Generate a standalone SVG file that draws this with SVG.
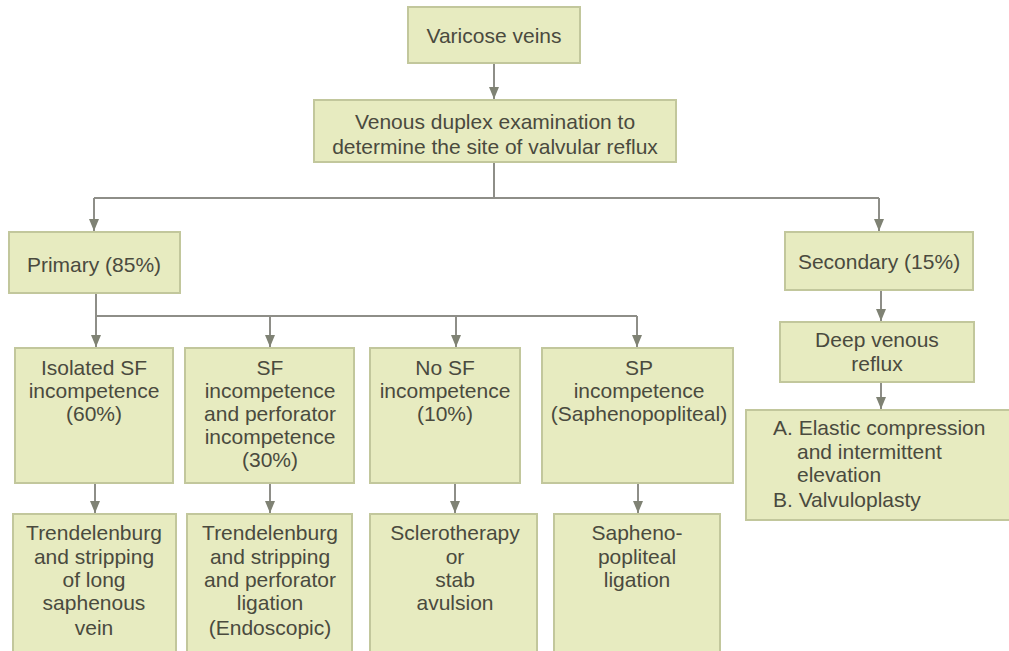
<svg xmlns="http://www.w3.org/2000/svg" width="1009" height="651" viewBox="0 0 1009 651">
<style>
.box{fill:#e7ebc0;stroke:#c2c79c;stroke-width:2}
.t{font-family:"Liberation Sans",Arial,sans-serif;font-size:21px;fill:#4a4a3e;text-anchor:middle}
.l{text-anchor:start}
.c{fill:none;stroke:#8e8e88;stroke-width:2}
</style>
<defs>
<marker id="ah" viewBox="0 0 12 10" refX="12" refY="5" markerWidth="12" markerHeight="10" markerUnits="userSpaceOnUse" orient="auto">
<path d="M0,0 L12,5 L0,10 Z" fill="#7f8274"/>
</marker>
</defs>
<rect width="1009" height="651" fill="#ffffff"/>
<g id="connectors">
<path class="c" d="M494,63 V99" marker-end="url(#ah)"/>
<path class="c" d="M494,162 V198 M94,198 H879"/>
<path class="c" d="M94,198 V231" marker-end="url(#ah)"/>
<path class="c" d="M879,198 V231" marker-end="url(#ah)"/>
<path class="c" d="M96,293 V316 M96,316 H637"/>
<path class="c" d="M96,316 V347" marker-end="url(#ah)"/>
<path class="c" d="M270,316 V347" marker-end="url(#ah)"/>
<path class="c" d="M456,316 V347" marker-end="url(#ah)"/>
<path class="c" d="M637,316 V347" marker-end="url(#ah)"/>
<path class="c" d="M95,484 V513" marker-end="url(#ah)"/>
<path class="c" d="M270,484 V513" marker-end="url(#ah)"/>
<path class="c" d="M455,484 V513" marker-end="url(#ah)"/>
<path class="c" d="M638,484 V513" marker-end="url(#ah)"/>
<path class="c" d="M881,290 V321" marker-end="url(#ah)"/>
<path class="c" d="M881,382 V409" marker-end="url(#ah)"/>
</g>
<g id="varicose">
<rect class="box" x="408" y="7" width="172" height="56"/>
<text class="t" x="494" y="43">Varicose veins</text>
</g>
<g id="duplex">
<rect class="box" x="314" y="100" width="362" height="62"/>
<text class="t" x="495" y="129">Venous duplex examination to</text>
<text class="t" x="495" y="154">determine the site of valvular reflux</text>
</g>
<g id="primary">
<rect class="box" x="9" y="232" width="171" height="61"/>
<text class="t" x="94" y="272">Primary (85%)</text>
</g>
<g id="secondary">
<rect class="box" x="785" y="232" width="188" height="58"/>
<text class="t" x="879" y="269">Secondary (15%)</text>
</g>
<g id="deep">
<rect class="box" x="780" y="322" width="194" height="60"/>
<text class="t" x="877" y="347">Deep venous</text>
<text class="t" x="877" y="371">reflux</text>
</g>
<g id="treatment-deep">
<rect class="box" x="746" y="410" width="270" height="110"/>
<text class="t l" x="773" y="435">A. Elastic compression</text>
<text class="t l" x="797" y="459">and intermittent</text>
<text class="t l" x="797" y="482">elevation</text>
<text class="t l" x="773" y="507">B. Valvuloplasty</text>
</g>
<g id="isolated-sf">
<rect class="box" x="15" y="348" width="158" height="135"/>
<text class="t" x="94" y="375">Isolated SF</text>
<text class="t" x="94" y="398">incompetence</text>
<text class="t" x="94" y="421">(60%)</text>
</g>
<g id="sf-perforator">
<rect class="box" x="185" y="348" width="169" height="135"/>
<text class="t" x="270" y="375">SF</text>
<text class="t" x="270" y="398">incompetence</text>
<text class="t" x="270" y="421">and perforator</text>
<text class="t" x="270" y="444">incompetence</text>
<text class="t" x="270" y="467">(30%)</text>
</g>
<g id="no-sf">
<rect class="box" x="370" y="348" width="150" height="135"/>
<text class="t" x="445" y="375">No SF</text>
<text class="t" x="445" y="398">incompetence</text>
<text class="t" x="445" y="421">(10%)</text>
</g>
<g id="sp">
<rect class="box" x="542" y="348" width="191" height="135"/>
<text class="t" x="639" y="375">SP</text>
<text class="t" x="639" y="398">incompetence</text>
<text class="t" x="639" y="421">(Saphenopopliteal)</text>
</g>
<g id="trend-long">
<rect class="box" x="13" y="514" width="163" height="145"/>
<text class="t" x="94" y="540">Trendelenburg</text>
<text class="t" x="94" y="564">and stripping</text>
<text class="t" x="94" y="587">of long</text>
<text class="t" x="94" y="610">saphenous</text>
<text class="t" x="94" y="635">vein</text>
</g>
<g id="trend-perf">
<rect class="box" x="187" y="514" width="165" height="145"/>
<text class="t" x="270" y="540">Trendelenburg</text>
<text class="t" x="270" y="564">and stripping</text>
<text class="t" x="270" y="587">and perforator</text>
<text class="t" x="270" y="610">ligation</text>
<text class="t" x="270" y="635">(Endoscopic)</text>
</g>
<g id="sclero">
<rect class="box" x="370" y="514" width="167" height="145"/>
<text class="t" x="455" y="540">Sclerotherapy</text>
<text class="t" x="455" y="564">or</text>
<text class="t" x="455" y="587">stab</text>
<text class="t" x="455" y="610">avulsion</text>
</g>
<g id="sp-ligation">
<rect class="box" x="554" y="514" width="166" height="145"/>
<text class="t" x="637" y="540">Sapheno-</text>
<text class="t" x="637" y="564">popliteal</text>
<text class="t" x="637" y="587">ligation</text>
</g>
</svg>
